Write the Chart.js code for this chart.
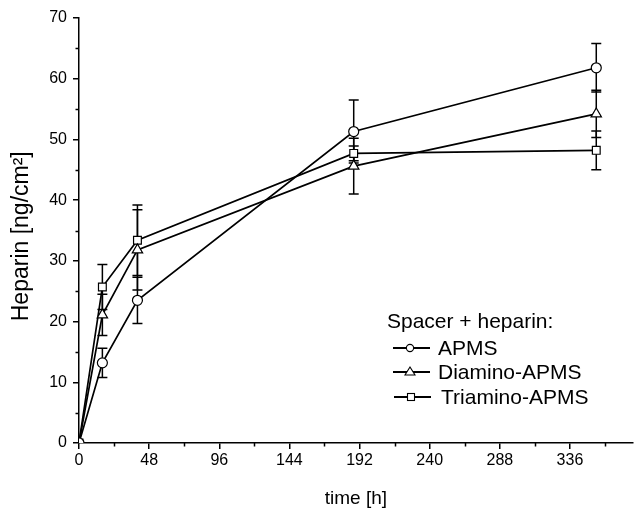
<!DOCTYPE html>
<html><head><meta charset="utf-8">
<script src="https://cdn.jsdelivr.net/npm/chart.js@4.4.0/dist/chart.umd.min.js"></script>
<style>
html,body{margin:0;padding:0;background:#fff;overflow:hidden}
#wrap{position:relative;width:640px;height:510px}
canvas{display:block}
.lg{position:absolute;font-family:"Liberation Sans",Arial,sans-serif;font-size:21px;color:#000;white-space:nowrap;line-height:22px}
.lg svg{position:absolute;left:0;top:0}
</style></head>
<body>
<div id="wrap">
<canvas id="c" width="640" height="510"></canvas>
<div class="lg" style="left:387px;top:310px">Spacer + heparin:</div>
<div class="lg" style="left:390px;top:337px;width:240px;height:22px"><svg width="44" height="22"><line x1="3" y1="11" x2="40" y2="11" stroke="#000" stroke-width="2"/><circle cx="20" cy="11" r="3.6" fill="#fff" stroke="#000" stroke-width="1.1"/></svg><span style="position:absolute;left:48px;top:0">APMS</span></div>
<div class="lg" style="left:390px;top:361px;width:240px;height:22px"><svg width="44" height="22"><line x1="3" y1="11" x2="40" y2="11" stroke="#000" stroke-width="2"/><polygon points="20,6 25,14 15,14" fill="#fff" stroke="#000" stroke-width="1.1"/></svg><span style="position:absolute;left:48px;top:0">Diamino-APMS</span></div>
<div class="lg" style="left:391px;top:386px;width:240px;height:22px"><svg width="44" height="22"><line x1="3" y1="11" x2="40" y2="11" stroke="#000" stroke-width="2"/><rect x="16.5" y="7.5" width="7" height="7" fill="#fff" stroke="#000" stroke-width="1.1"/></svg><span style="position:absolute;left:50px;top:0">Triamino-APMS</span></div>
</div>
<script>
// ---- data ----
const timeH = [0, 16, 40, 188, 354];
const apms = [0, 13.2, 23.5, 51.3, 61.8];
const apmsErr = [0, 2.4, 3.8, 5.2, 4.0];
const diamino = [0, 21.1, 31.8, 45.6, 54.2];
const diaminoErr = [0, 3.4, 6.6, 4.6, 3.9];
const triamino = [0, 25.7, 33.4, 47.7, 48.2];
const triaminoErr = [0, 3.7, 5.8, 1.2, 3.2];
const xMajorTicks = [0, 48, 96, 144, 192, 240, 288, 336];
const xMinorTicks = [24, 72, 120, 168, 216, 264, 312, 360];
const yMajorTicks = [0, 10, 20, 30, 40, 50, 60, 70];
const yMinorTicks = [5, 15, 25, 35, 45, 55, 65];

const FONT = "'Liberation Sans', Arial, sans-serif";

function pts(ys){ return timeH.map((t,i)=>({x:t,y:ys[i]})); }

const errSets = [apmsErr, diaminoErr, triaminoErr];

const errorBars = {
  id:'errorBars',
  beforeDatasetsDraw(chart){
    const {ctx, scales:{x, y}} = chart;
    ctx.save();
    ctx.strokeStyle = '#000';
    ctx.lineWidth = 1.5;
    chart.data.datasets.forEach((ds, di) => {
      const errs = errSets[di];
      ds.data.forEach((p, i) => {
        const e = errs[i];
        if (!e) return;
        const px = x.getPixelForValue(p.x);
        const y1 = y.getPixelForValue(p.y + e);
        const y2 = y.getPixelForValue(p.y - e);
        ctx.beginPath();
        ctx.moveTo(px, y1); ctx.lineTo(px, y2);
        ctx.moveTo(px-5, y1); ctx.lineTo(px+5, y1);
        ctx.moveTo(px-5, y2); ctx.lineTo(px+5, y2);
        ctx.stroke();
      });
    });
    ctx.restore();
  },
  afterDraw(chart){
    const {ctx, scales:{x, y}} = chart;
    ctx.save();
    ctx.strokeStyle = '#000';
    ctx.lineWidth = 1.5;
    ctx.beginPath();
    xMinorTicks.forEach(v => {
      const px = Math.round(x.getPixelForValue(v)) + 0.5;
      if (px > chart.chartArea.right) return;
      ctx.moveTo(px, y.bottom); ctx.lineTo(px, y.bottom + 3.5);
    });
    yMinorTicks.forEach(v => {
      const py = Math.round(y.getPixelForValue(v)) + 0.5;
      ctx.moveTo(x.left, py); ctx.lineTo(x.left - 3.5, py);
    });
    ctx.stroke();
    ctx.restore();
  }
};

new Chart(document.getElementById('c'), {
  type: 'line',
  data: {
    datasets: [
      {label:'APMS', data: pts(apms), pointStyle:'circle', pointRadius:5},
      {label:'Diamino-APMS', data: pts(diamino), pointStyle:'triangle', pointRadius:6},
      {label:'Triamino-APMS', data: pts(triamino), pointStyle:'rect', pointRadius:5.5}
    ].map(d => Object.assign(d, {
      borderColor:'#000', borderWidth:1.7, backgroundColor:'#fff',
      pointBackgroundColor:'#fff', pointBorderColor:'#000', pointBorderWidth:1.2,
      tension:0, fill:false
    }))
  },
  options: {
    responsive:false, animation:false,
    layout:{padding:{top:18, right:0, left:0, bottom:0}},
    plugins:{legend:{display:false}, tooltip:{enabled:false}},
    scales:{
      x:{
        type:'linear', position:'bottom', min:0, max:379,
        afterBuildTicks(s){ s.ticks = xMajorTicks.map(v=>({value:v})); },
        afterFit(s){ s.height = 67; },
        ticks:{font:{family:FONT, size:16}, color:'#000', padding:2, maxRotation:0, autoSkip:false},
        grid:{drawOnChartArea:false, drawTicks:true, tickLength:6, color:'#000', lineWidth:1.5},
        border:{display:true, color:'#000', width:1.5},
        title:{display:true, text:'time [h]', color:'#000', font:{family:FONT, size:19}, padding:{top:1, bottom:0}}
      },
      y:{
        type:'linear', min:0, max:70,
        afterBuildTicks(s){ s.ticks = yMajorTicks.map(v=>({value:v})); },
        afterFit(s){ s.width = 79; },
        ticks:{font:{family:FONT, size:16}, color:'#000', padding:6, autoSkip:false},
        grid:{drawOnChartArea:false, drawTicks:true, tickLength:6, color:'#000', lineWidth:1.5},
        border:{display:true, color:'#000', width:1.5},
        title:{display:true, text:'Heparin [ng/cm²]\u2002', color:'#000', font:{family:FONT, size:23}, padding:{top:8, bottom:0}}
      }
    }
  },
  plugins:[errorBars]
});
</script>
</body></html>
